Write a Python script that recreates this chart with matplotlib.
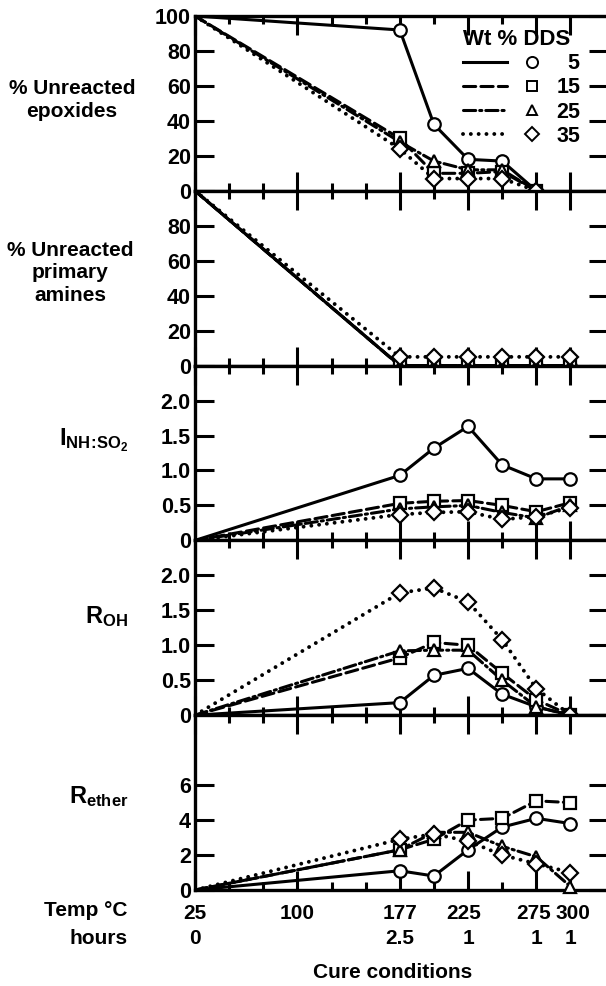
import matplotlib
matplotlib.use('Agg')
import matplotlib.pyplot as plt
from matplotlib.lines import Line2D
from matplotlib.legend_handler import HandlerTuple
from matplotlib.transforms import blended_transform_factory, ScaledTranslation

plt.rcParams['font.family'] = ['Liberation Sans', 'DejaVu Sans']
plt.rcParams['font.weight'] = 'bold'
plt.rcParams['font.size'] = 15
plt.rcParams['mathtext.fontset'] = 'custom'
plt.rcParams['mathtext.rm'] = 'Liberation Sans:bold'
plt.rcParams['mathtext.it'] = 'Liberation Sans:bold'
plt.rcParams['mathtext.bf'] = 'Liberation Sans:bold'

# cure steps, evenly spaced along x (25 C / 0 h start, then 177..300 C)
steps = [0, 6, 7, 8, 9, 10, 11]
temp_pos = [0, 3, 6, 8, 10, 11]
temp_labels = ['25', '100', '177', '225', '275', '300']
hour_pos = [0, 6, 8, 10, 11]
hour_labels = ['0', '2.5', '1', '1', '1']
minor_pos = [1, 2, 4, 5, 7, 9]

dds = ['5', '15', '25', '35']

# % unreacted epoxides (ends at 275 C)
epox = {
    '5':  [100, 92, 38, 18, 17, 0],
    '15': [100, 30, 10, 10, 11, 0],
    '25': [100, 28, 17, 12, 12, 0],
    '35': [100, 24, 7, 7, 7, 0],
}
# % unreacted primary amines
amine = {
    '5':  [100, 0, 0, 0, 0, 0, 0],
    '15': [100, 0, 0, 0, 0, 0, 0],
    '25': [100, 0, 0, 0, 0, 0, 0],
    '35': [100, 5, 5, 5, 5, 5, 5],
}
# I NH:SO2
i_nh = {
    '5':  [0, 0.93, 1.32, 1.63, 1.08, 0.88, 0.88],
    '15': [0, 0.53, 0.56, 0.57, 0.50, 0.41, 0.54],
    '25': [0, 0.45, 0.48, 0.50, 0.40, 0.32, 0.50],
    '35': [0, 0.37, 0.40, 0.41, 0.30, 0.34, 0.47],
}
# R OH
r_oh = {
    '5':  [0, 0.18, 0.57, 0.67, 0.30, 0.12, 0.0],
    '15': [0, 0.82, 1.04, 1.00, 0.60, 0.22, 0.0],
    '25': [0, 0.92, 0.93, 0.93, 0.50, 0.12, 0.0],
    '35': [0, 1.75, 1.82, 1.62, 1.08, 0.38, 0.0],
}
# R ether
r_ether = {
    '5':  [0, 1.1, 0.8, 2.3, 3.6, 4.1, 3.8],
    '15': [0, 2.3, 2.9, 4.0, 4.1, 5.1, 5.0],
    '25': [0, 2.3, 3.3, 3.3, 2.5, 1.9, 0.2],
    '35': [0, 2.9, 3.2, 2.8, 2.0, 1.5, 1.0],
}

styles = {
    '5':  dict(ls='-', marker='o', ms=9),
    '15': dict(ls=(0, (4.0, 1.7)), marker='s', ms=8),
    '25': dict(ls=(0, (4.0, 1.3, 0.7, 1.3)), marker='^', ms=8),
    '35': dict(ls=(0, (0.01, 2.0)), marker='D', ms=8),
}
lw = {'5': 2.2, '15': 2.2, '25': 2.2, '35': 2.8}

panels = [
    (epox, (0, 100), [0, 20, 40, 60, 80, 100], ['0', '20', '40', '60', '80', '100']),
    (amine, (0, 100), [0, 20, 40, 60, 80], ['0', '20', '40', '60', '80']),
    (i_nh, (0, 2.5), [0, 0.5, 1.0, 1.5, 2.0], ['0', '0.5', '1.0', '1.5', '2.0']),
    (r_oh, (0, 2.5), [0, 0.5, 1.0, 1.5, 2.0], ['0', '0.5', '1.0', '1.5', '2.0']),
    (r_ether, (0, 10), [0, 2, 4, 6], ['0', '2', '4', '6']),
]

W, H = 606, 986
fig = plt.figure(figsize=(W / 100, H / 100), dpi=100)
gs = fig.add_gridspec(5, 1, left=195 / W, right=608 / W, top=1 - 16 / H,
                      bottom=1 - 890 / H, hspace=0)

axes = []
for k, (data, ylim, yt, ytl) in enumerate(panels):
    ax = fig.add_subplot(gs[k])
    axes.append(ax)
    for name in dds:
        ys = data[name]
        xs = steps[:len(ys)]
        st = styles[name]
        ax.plot(xs, ys, color='black', lw=lw[name], ls=st['ls'],
                dash_capstyle='round', zorder=2)
        ax.plot(xs[1:], ys[1:], ls='none', marker=st['marker'], ms=st['ms'],
                mfc='white', mec='black', mew=1.6, zorder=3, clip_on=False)
    ax.set_xlim(0, 12.1)
    ax.set_ylim(*ylim)
    ax.set_yticks(yt)
    ax.set_yticklabels(ytl)
    ax.set_xticks(temp_pos)
    ax.set_xticks(minor_pos, minor=True)
    ax.tick_params(axis='x', which='major', direction='in', top=True, bottom=True,
                   length=14, width=2.2, labelbottom=False)
    ax.tick_params(axis='x', which='minor', direction='in', top=True, bottom=True,
                   length=6, width=2.2)
    ax.tick_params(axis='y', which='major', direction='in', left=True, right=True,
                   length=14, width=2.2, pad=3, labelsize=15.5)
    for sp in ax.spines.values():
        sp.set_linewidth(2.4)

# bottom axis: temperature row as tick labels, hours row below
axb = axes[-1]
axb.set_xticklabels(temp_labels)
axb.tick_params(axis='x', which='major', labelbottom=True, pad=10, labelsize=15)
# the printed labels 225 / 275 / 300 sit a little off their ticks
nudge = {'225': -4, '275': -3, '300': 2}
for lab in axb.get_xticklabels():
    dx = nudge.get(lab.get_text(), 0)
    if dx:
        lab.set_transform(lab.get_transform() + ScaledTranslation(dx / 100, 0, fig.dpi_scale_trans))
tr = blended_transform_factory(axb.transData, fig.transFigure)
for x, h in zip(hour_pos, hour_labels):
    axb.text(x, 1 - 938 / H, h, transform=tr, ha='center', va='center',
             fontsize=15)

fig.text(128 / W, 1 - 910 / H, 'Temp °C', ha='right', va='center', fontsize=15)
fig.text(128 / W, 1 - 938 / H, 'hours', ha='right', va='center', fontsize=15)
fig.text(393 / W, 1 - 973 / H, 'Cure conditions', ha='center', va='center',
         fontsize=15)

# panel labels
fig.text(72 / W, 1 - 100 / H, '% Unreacted\nepoxides', ha='center', va='center',
         multialignment='center', linespacing=1.3, fontsize=15)
fig.text(70 / W, 1 - 273 / H, '% Unreacted\nprimary\namines', ha='center',
         va='center', multialignment='center', linespacing=1.25, fontsize=15)
fig.text(128 / W, 1 - 440 / H, r'$\mathrm{I}_{\mathrm{NH}\!{:}\!\mathrm{SO}_{2}}$',
         ha='right', va='center', fontsize=17)
fig.text(128 / W, 1 - 617 / H, r'$\mathrm{R}_{\mathrm{OH}}$', ha='right',
         va='center', fontsize=17)
fig.text(128 / W, 1 - 797 / H, r'$\mathrm{R}_{\mathrm{ether}}$', ha='right',
         va='center', fontsize=17)

# legend: line sample, marker, DDS weight %
handles = []
for name in dds:
    st = styles[name]
    ln = Line2D([], [], color='black', lw=lw[name], ls=st['ls'], dash_capstyle='round')
    mk = Line2D([], [], ls='none', marker=st['marker'], ms=st['ms'] - 1,
                mfc='white', mec='black', mew=1.4)
    handles.append((ln, mk))
labels = ['  5', '15', '25', '35']
leg = axes[0].legend(handles, labels, handler_map={tuple: HandlerTuple(ndivide=None, pad=0.15)},
                     title='Wt % DDS', loc='upper left', frameon=False,
                     handlelength=4.25, handletextpad=0.1, labelspacing=0.15,
                     borderaxespad=0.2, bbox_to_anchor=(0.617, 1.0), fontsize=15.5,
                     alignment='left',
                     title_fontproperties={'weight': 'bold', 'size': 16})

fig.savefig('out.png', dpi=100)
